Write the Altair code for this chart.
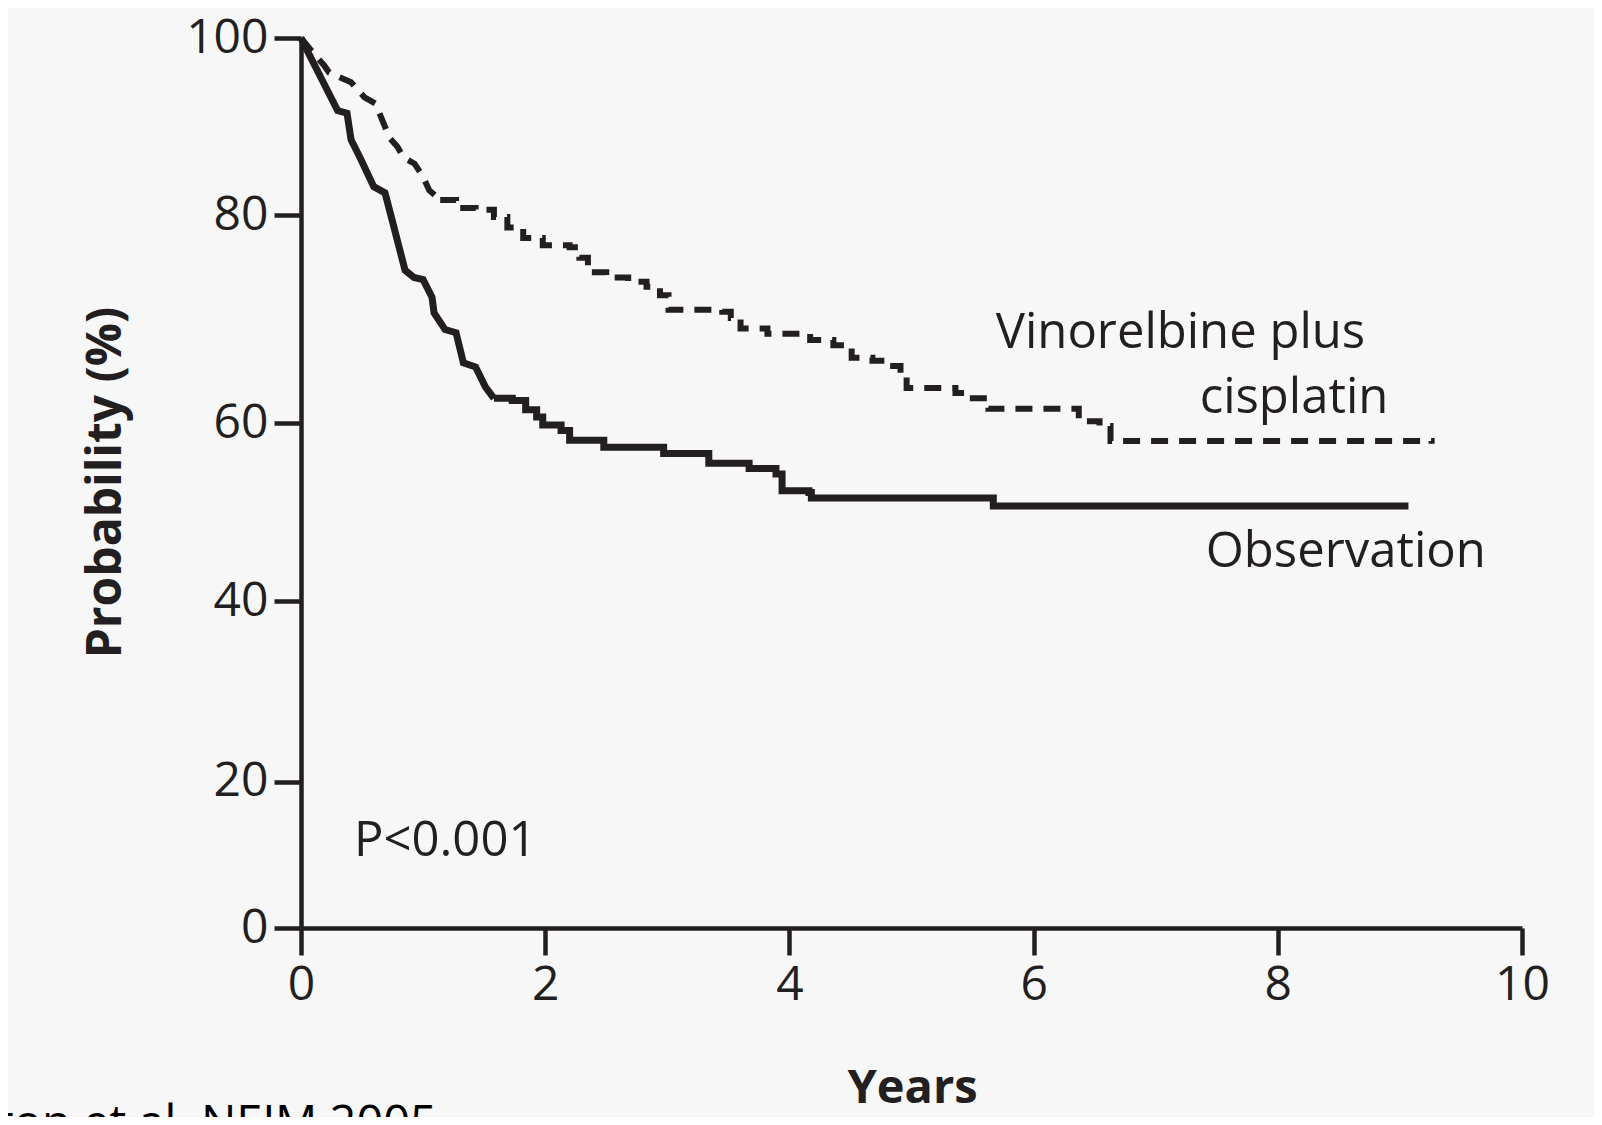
import altair as alt
import pandas as pd

# ---- data (Kaplan-Meier curves) ----
obs_years = [0.00, 0.05, 0.175, 0.30, 0.377, 0.41, 0.483, 0.596, 0.688, 0.762, 0.852, 0.925,
             1.00, 1.073, 1.09, 1.18, 1.27, 1.33, 1.43, 1.51, 1.58, 1.73, 1.84, 1.93, 1.98,
             2.13, 2.20, 2.48, 2.97, 3.34, 3.67, 3.89, 3.94, 4.16, 4.18, 5.67, 9.07]
obs_prob = [100.0, 98.6, 95.2, 91.8, 91.5, 88.5, 86.5, 83.2, 82.5, 78.8, 74.7, 74.0,
            73.8, 72.1, 70.6, 69.0, 68.7, 65.8, 65.4, 63.5, 62.4, 62.2, 61.3, 60.6, 59.8,
            59.2, 58.1, 57.3, 56.6, 55.5, 54.9, 54.3, 52.4, 52.2, 51.6, 50.7, 50.7]

vin_years = [0.00, 0.10, 0.19, 0.23, 0.41, 0.52, 0.61, 0.69, 0.72, 0.79, 0.84, 0.93,
             1.00, 1.05, 1.14, 1.27, 1.43, 1.58, 1.69, 1.82, 1.98, 2.20, 2.28, 2.35,
             2.50, 2.68, 2.83, 2.94, 3.01, 3.45, 3.52, 3.60, 3.82, 4.17, 4.36, 4.51,
             4.68, 4.80, 4.91, 4.96, 5.36, 5.44, 5.63, 6.37, 6.54, 6.63, 9.26]
vin_prob = [100.0, 98.3, 96.9, 96.1, 95.0, 93.3, 92.6, 89.9, 88.8, 87.7, 86.5, 85.8,
            84.3, 82.8, 81.7, 80.8, 80.6, 79.8, 78.8, 77.8, 77.1, 76.9, 75.9, 74.5,
            74.0, 73.6, 73.1, 72.3, 70.9, 70.7, 70.1, 69.1, 68.6, 68.0, 67.5, 66.3,
            66.0, 65.5, 64.7, 63.4, 62.9, 62.4, 61.4, 60.2, 59.7, 58.0, 57.7]

x_ticks = [0, 2, 4, 6, 8, 10]
y_ticks = [0, 20, 40, 60, 80, 100]

labels_text = ["Vinorelbine plus", "cisplatin", "Observation", "P<0.001"]
labels_years = [5.69, 7.36, 7.41, 0.434]
labels_prob = [67.2, 61.0, 43.8, 9.8]

citation = "Winton et al. NEJM 2005"

# early, densely-stepped part drawn as a jagged line; later part as visible steps
OBS_SPLIT = 1.58
VIN_SPLIT = 1.14

# ---- build tables ----
curves = pd.concat([
    pd.DataFrame({"Years": obs_years, "Prob": obs_prob, "group": "Observation"}),
    pd.DataFrame({"Years": vin_years, "Prob": vin_prob, "group": "Vinorelbine plus cisplatin"}),
], ignore_index=True)
labels = pd.DataFrame({"text": labels_text, "Years": labels_years, "Prob": labels_prob})

INK = "#231f20"
FONT = "Open Sans"

# the printed y axis is slightly non-uniform; reproduce tick spacing with a piecewise scale
y_range = [890, 743.7, 563, 385.3, 177, 0]

xscale = alt.Scale(domain=[0, 10], nice=False, zero=False)
yscale = alt.Scale(domain=y_ticks, range=y_range, nice=False, zero=False)

x_axis = alt.Axis(values=x_ticks, format="d", grid=False, tickSize=27, tickWidth=4.5,
                  domainWidth=4.5, domainColor=INK, tickColor=INK, labelColor=INK,
                  labelFont=FONT, labelFontSize=48, labelPadding=6, labelFlush=False,
                  title="Years", titleFont=FONT, titleFontWeight="bold", titleFontSize=47,
                  titleColor=INK, titleX=611, titleY=174, titleAlign="center",
                  titleBaseline="alphabetic")
y_axis = alt.Axis(values=y_ticks, format="d", grid=False, tickSize=27, tickWidth=4.5,
                  domainWidth=4.5, domainColor=INK, tickColor=INK, labelColor=INK,
                  labelFont=FONT, labelFontSize=48, labelPadding=6, labelFlush=False,
                  title="Probability (%)", titleFont=FONT, titleFontWeight="bold",
                  titleFontSize=48, titleColor=INK, titleAngle=270, titleX=-181, titleY=444,
                  titleAlign="center", titleBaseline="alphabetic")

base = alt.Chart(curves)
enc_axes = dict(x=alt.X("Years:Q", scale=xscale, axis=x_axis),
                y=alt.Y("Prob:Q", scale=yscale, axis=y_axis))
enc = dict(x=alt.X("Years:Q", scale=xscale), y=alt.Y("Prob:Q", scale=yscale))

obs_early = base.transform_filter(
    (alt.datum.group == "Observation") & (alt.datum.Years <= OBS_SPLIT)
).mark_line(interpolate="linear", color=INK, strokeWidth=7, strokeJoin="miter").encode(**enc_axes)

obs_late = base.transform_filter(
    (alt.datum.group == "Observation") & (alt.datum.Years >= OBS_SPLIT)
).mark_line(interpolate="step-after", color=INK, strokeWidth=7).encode(**enc)

vin_early = base.transform_filter(
    (alt.datum.group == "Vinorelbine plus cisplatin") & (alt.datum.Years <= VIN_SPLIT)
).mark_line(interpolate="linear", color=INK, strokeWidth=6, strokeDash=[17, 11],
            strokeCap="butt").encode(**enc)

vin_late = base.transform_filter(
    (alt.datum.group == "Vinorelbine plus cisplatin") & (alt.datum.Years >= VIN_SPLIT)
).mark_line(interpolate="step-after", color=INK, strokeWidth=6, strokeDash=[17, 11],
            strokeCap="butt").encode(**enc)

text = alt.Chart(labels).mark_text(
    align="left", baseline="alphabetic", font=FONT, fontSize=49, color=INK
).encode(
    x=alt.X("Years:Q", scale=xscale),
    y=alt.Y("Prob:Q", scale=yscale),
    text="text:N",
)

cite = alt.Chart(pd.DataFrame({"t": [citation]})).mark_text(
    align="right", baseline="alphabetic", font="Open Sans", fontSize=47, color="#000000"
).encode(
    x=alt.value(136), y=alt.value(1101), text="t:N"
)

chart = alt.layer(obs_early, obs_late, vin_early, vin_late, text, cite).properties(
    width=1221, height=890,
    autosize=alt.AutoSizeParams(type="none"),
    padding={"left": 293, "top": 30, "right": 72, "bottom": 189},
    background="#f7f7f7",
).configure_view(stroke=None)

chart.save("out.html", embed_options={"renderer": "svg", "actions": False})
